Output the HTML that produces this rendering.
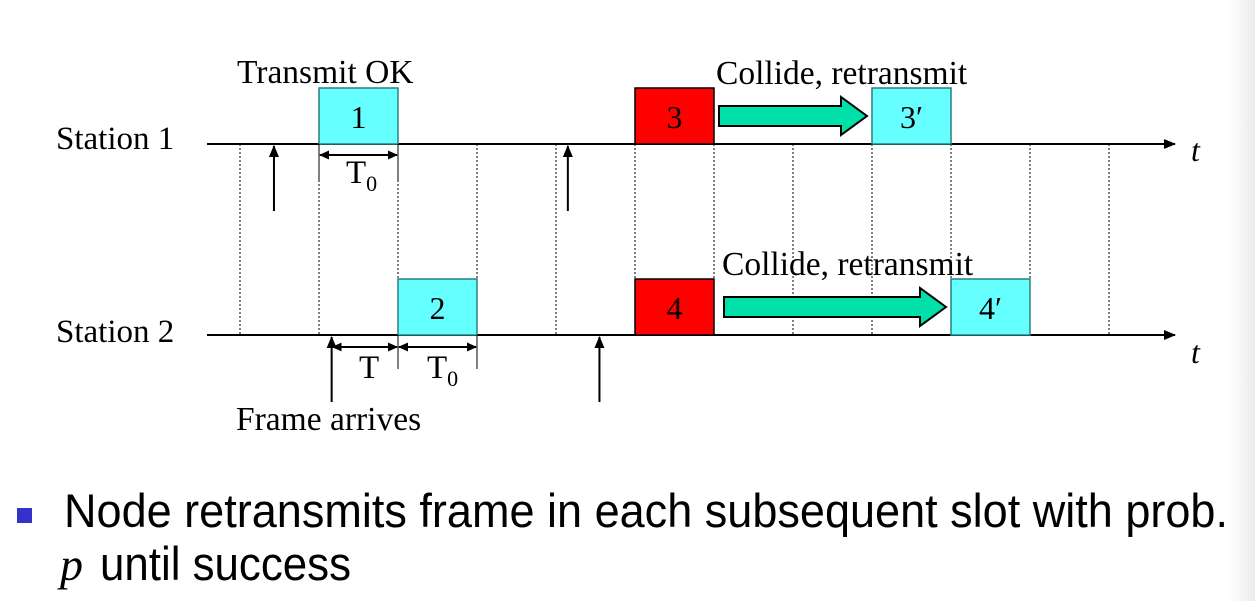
<!DOCTYPE html>
<html><head><meta charset="utf-8">
<style>
html,body{margin:0;padding:0;background:#fff;}
svg{display:block;}
.serif{font-family:"Liberation Serif",serif;}
.sans{font-family:"Liberation Sans",sans-serif;}
</style></head>
<body>
<svg id="chart" width="1255" height="601" viewBox="0 0 1255 601" xmlns="http://www.w3.org/2000/svg">
<defs>
<linearGradient id="edge" x1="0" x2="1" y1="0" y2="0">
<stop offset="0" stop-color="#fff"/><stop offset="1" stop-color="#ececec"/>
</linearGradient>
<marker id="ah" markerWidth="12" markerHeight="10" refX="11" refY="5" orient="auto" markerUnits="userSpaceOnUse">
<path d="M0,0 L12,5 L0,10 Z" fill="#000"/></marker>
<marker id="ahs" markerWidth="10" markerHeight="9" refX="9" refY="4.5" orient="auto-start-reverse" markerUnits="userSpaceOnUse">
<path d="M0,0 L10,4.5 L0,9 Z" fill="#000"/></marker>
</defs>
<rect x="1228" y="0" width="27" height="601" fill="url(#edge)"/>
<g id="grid"></g>
<g id="marks"></g>
<g id="labels">
<text class="serif" x="56" y="149" font-size="33">Station 1</text>
<text class="serif" x="56" y="342" font-size="33">Station 2</text>
<text class="serif" x="237" y="83" font-size="33.5">Transmit OK</text>
<text class="serif" x="716" y="84" font-size="33.5">Collide, retransmit</text>
<text class="serif" x="722" y="275" font-size="33.5">Collide, retransmit</text>
<text class="serif" x="236" y="430" font-size="33.5">Frame arrives</text>
<text class="serif" x="1191" y="161" font-size="32" font-style="italic">t</text>
<text class="serif" x="1191" y="363" font-size="32" font-style="italic">t</text>
<text class="serif" x="346" y="183" font-size="33">T<tspan font-size="22" dy="8">0</tspan></text>
<text class="serif" x="359" y="378" font-size="33">T</text>
<text class="serif" x="427" y="378" font-size="33">T<tspan font-size="22" dy="8">0</tspan></text>
<rect x="17" y="508" width="15" height="15" fill="#3333cc"/>
<text class="sans" x="64" y="527" font-size="47" textLength="1164" lengthAdjust="spacingAndGlyphs">Node retransmits frame in each subsequent slot with prob.</text>
<text class="serif" x="60" y="580" font-size="46" font-style="italic">p</text>
<text class="sans" x="100" y="580" font-size="47" textLength="251" lengthAdjust="spacingAndGlyphs">until success</text>
</g>
</svg>
<script>
// slot grid
const slotStart = 240;
const slotWidth = 79;
const slotCount = 12;
// stations
const stationNames = ["Station 1", "Station 2"];
const stationAxisY = [144, 335];
// frames: station, slot index, label, type
const frameStations = [0, 0, 0, 1, 1, 1];
const frameSlots = [1, 5, 8, 2, 5, 9];
const frameLabels = ["1", "3", "3\u2032", "2", "4", "4\u2032"];
const frameCollided = [false, true, false, false, true, false];
// arrival arrows (slot-unit times)
const arrivalStations = [0, 0, 1, 1];
const arrivalTimes = [0.43, 4.15, 1.16, 4.55];
// retransmit arrows: station, from slot, to slot
const retxStations = [0, 1];
const retxFrom = [6, 6];
const retxTo = [8, 9];
const retxOffset = [5, 10];

const NS = "http://www.w3.org/2000/svg";
const X = s => slotStart + s * slotWidth;
const boxH = 56;
function mk(tag, attrs, parent){const e=document.createElementNS(NS,tag);for(const k in attrs)e.setAttribute(k,attrs[k]);parent.appendChild(e);return e;}
const grid = document.getElementById('grid');
const marks = document.getElementById('marks');

for (let i = 0; i < slotCount; i++) {
  const l = mk('line', {x1:X(i), x2:X(i), y1:stationAxisY[0], y2:stationAxisY[1], stroke:'#000', 'stroke-width':1, 'stroke-dasharray':'2,2'}, grid);
  
  
}
stationAxisY.forEach((y, i) => {
  const a = mk('line', {x1:207, x2:1175, y1:y, y2:y, stroke:'#000', 'stroke-width':2, 'marker-end':'url(#ah)'}, grid);
  
  
});
for (let i = 0; i < frameSlots.length; i++) {
  const x = X(frameSlots[i]), y = stationAxisY[frameStations[i]] - boxH;
  const r = mk('rect', {x:x, y:y, width:slotWidth, height:boxH, fill: frameCollided[i] ? '#ff0000' : '#66ffff', stroke: frameCollided[i] ? '#000' : '#2a7f7f', 'stroke-width':1.5}, marks);
  
  
  const t = mk('text', {x:x + slotWidth/2, y:y + 40, 'text-anchor':'middle', 'font-size':32, 'font-family':'"Liberation Serif", serif'}, marks);
  t.textContent = frameLabels[i];
  
  
}
for (let i = 0; i < arrivalTimes.length; i++) {
  const x = X(arrivalTimes[i]), y = stationAxisY[arrivalStations[i]];
  const a = mk('line', {x1:x, x2:x, y1:y + 67, y2:y + 2, stroke:'#000', 'stroke-width':2, 'marker-end':'url(#ah)'}, marks);
  
  
}
for (let i = 0; i < retxFrom.length; i++) {
  const y = stationAxisY[retxStations[i]] - 28;
  const x0 = X(retxFrom[i]) + retxOffset[i], x1 = X(retxTo[i]) - 5;
  const hw = 19, sh = 10, headL = 26;
  const d = `M${x0},${y-sh} L${x1-headL},${y-sh} L${x1-headL},${y-hw} L${x1},${y} L${x1-headL},${y+hw} L${x1-headL},${y+sh} L${x0},${y+sh} Z`;
  const p = mk('path', {d:d, fill:'#00e0a8', stroke:'#000', 'stroke-width':2}, marks);
  
  
}
function interval(xa, xb, y, name){
  const l = mk('line', {x1:xa+1, x2:xb-1, y1:y, y2:y, stroke:'#000', 'stroke-width':2, 'marker-start':'url(#ahs)', 'marker-end':'url(#ahs)'}, marks);
  
  
}
function tick(x, y1, y2){
  const l = mk('line', {x1:x, x2:x, y1:y1, y2:y2, stroke:'#000', 'stroke-width':1}, marks);
  
  
}
tick(X(1), stationAxisY[0], stationAxisY[0] + 36);
tick(X(2), stationAxisY[0], stationAxisY[0] + 36);
interval(X(1), X(2), stationAxisY[0] + 11, 't0-interval-1');
tick(X(2), stationAxisY[1], stationAxisY[1] + 34);
tick(X(3), stationAxisY[1], stationAxisY[1] + 34);
interval(X(1.16), X(2), stationAxisY[1] + 12, 't-interval');
interval(X(2), X(3), stationAxisY[1] + 12, 't0-interval-2');
</script>
</body></html>
